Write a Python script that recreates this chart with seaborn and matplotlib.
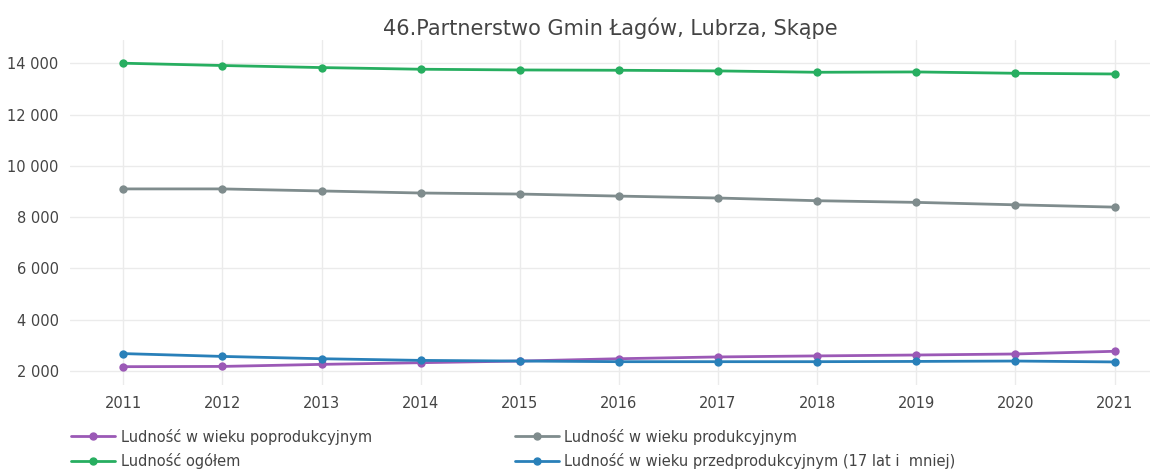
import pandas as pd
import seaborn as sns
import matplotlib.pyplot as plt
from matplotlib.ticker import FuncFormatter

# dane
lata = [2011, 2012, 2013, 2014, 2015, 2016, 2017, 2018, 2019, 2020, 2021]
poprodukcyjny = [2170, 2180, 2260, 2325, 2390, 2480, 2550, 2590, 2625, 2665, 2770]
ogolem = [14000, 13910, 13830, 13765, 13737, 13725, 13700, 13647, 13660, 13608, 13580]
produkcyjny = [9100, 9100, 9020, 8940, 8900, 8820, 8745, 8640, 8575, 8480, 8390]
przedprodukcyjny = [2680, 2570, 2480, 2415, 2390, 2365, 2365, 2365, 2375, 2390, 2355]

serie = [
    "Ludność w wieku poprodukcyjnym",
    "Ludność ogółem",
    "Ludność w wieku produkcyjnym",
    "Ludność w wieku przedprodukcyjnym (17 lat i  mniej)",
]
kolory = ["#9b59b6", "#27ae60", "#7f8c8d", "#2980b9"]
tytul = "46.Partnerstwo Gmin Łagów, Lubrza, Skąpe"

wartosci = [poprodukcyjny, ogolem, produkcyjny, przedprodukcyjny]
df = pd.DataFrame({
    "Rok": lata * len(serie),
    "Wartość": [v for w in wartosci for v in w],
    "Seria": [s for s in serie for _ in lata],
})

sns.set_style("white")
plt.rcParams["font.family"] = ["DejaVu Sans"]

fig = plt.figure(figsize=(11.63, 4.72), dpi=100)
ax = fig.add_axes([0.060, 0.184, 0.929, 0.731])

sns.lineplot(data=df, x="Rok", y="Wartość", hue="Seria", hue_order=serie,
             palette=kolory, marker="o", markersize=6, markeredgewidth=0,
             linewidth=2, ax=ax, legend=False)

ax.set_xlim(2010.46, 2021.36)
ax.set_ylim(1450, 14900)
ax.set_xticks(lata)
ax.set_yticks([2000, 4000, 6000, 8000, 10000, 12000, 14000])
ax.yaxis.set_major_formatter(FuncFormatter(lambda v, p: f"{int(v):,}".replace(",", " ")))
ax.grid(True, color="#ebebeb", linewidth=1)
for s in ax.spines.values():
    s.set_visible(False)
ax.tick_params(axis="both", length=0, labelsize=10.5, colors="#444444", pad=8)
ax.set_xlabel("")
ax.set_ylabel("")
ax.set_title(tytul, fontsize=15, color="#444444", pad=4)

uchwyty = [plt.Line2D([], [], color=c, marker="o", markersize=5, linewidth=2) for c in kolory]
fig.legend(uchwyty, serie, loc="lower left", bbox_to_anchor=(0.05, -0.022), ncol=2,
           frameon=False, fontsize=10.5, labelcolor="#444444", columnspacing=9.8,
           handlelength=3, handletextpad=0.4, labelspacing=0.6)

fig.savefig("out.png", dpi=100)
